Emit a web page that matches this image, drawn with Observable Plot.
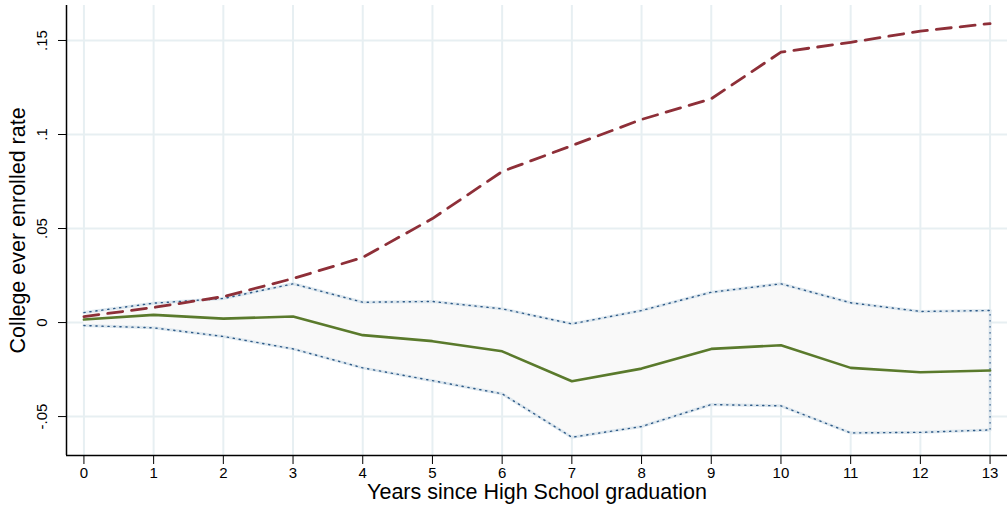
<!DOCTYPE html>
<html><head>
<meta charset="utf-8">
<script src="https://cdn.jsdelivr.net/npm/d3@7"></script>
<script src="https://cdn.jsdelivr.net/npm/@observablehq/plot@0.6"></script>
<style>body{margin:0;background:#fff;}</style>
</head><body><div id="chart"></div>
<script>
const years = [0,1,2,3,4,5,6,7,8,9,10,11,12,13];
const treated = [0.0032,0.0080,0.0138,0.0234,0.0346,0.0553,0.0803,0.0941,0.1080,0.1190,0.1438,0.1490,0.1550,0.1590];
const estimate = [0.0016,0.0041,0.0021,0.0032,-0.0067,-0.0099,-0.0153,-0.0312,-0.0245,-0.0140,-0.0121,-0.0241,-0.0264,-0.0255];
const ciUpper = [0.0053,0.0103,0.0128,0.0206,0.0108,0.0112,0.0073,-0.0007,0.0064,0.0161,0.0206,0.0105,0.0059,0.0064];
const ciLower = [-0.0016,-0.0028,-0.0074,-0.0140,-0.0241,-0.0309,-0.0379,-0.0610,-0.0553,-0.0436,-0.0443,-0.0587,-0.0584,-0.0571];
const yTicks = [-0.05,0,0.05,0.1,0.15];
const yTickLabels = ["-.05","0",".05",".1",".15"];
const xTitle = "Years since High School graduation";
const yTitle = "College ever enrolled rate";

const rows = years.map((x,i)=>({x, treated: treated[i], est: estimate[i], hi: ciUpper[i], lo: ciLower[i]}));
const xDom = [-0.25, 13.25];
const yDom = [-0.0707, 0.1686];
const gridColor = "#e7eff2";
const dotColor = "#2f5b88";
const haloColor = "#dde7ee";

const chart = Plot.plot({
  width: 1007, height: 507,
  marginLeft: 66, marginRight: 0, marginTop: 5, marginBottom: 52,
  style: {fontFamily: "'Liberation Sans', Arial, sans-serif", fontSize: "15px", background: "#fff", color: "#000"},
  x: {domain: xDom},
  y: {domain: yDom},
  marks: [
    Plot.gridX(years, {stroke: gridColor, strokeWidth: 2, strokeOpacity: 1}),
    Plot.gridY(yTicks, {stroke: gridColor, strokeWidth: 2, strokeOpacity: 1}),
    Plot.areaY(rows, {x: "x", y1: "lo", y2: "hi", fill: "#f9f9f9", fillOpacity: 1}),
    Plot.line(rows, {x: "x", y: "hi", stroke: haloColor, strokeWidth: 3}),
    Plot.line(rows, {x: "x", y: "lo", stroke: haloColor, strokeWidth: 3}),
    Plot.ruleX([rows[rows.length-1]], {x: "x", y1: "lo", y2: "hi", stroke: haloColor, strokeWidth: 3}),
    Plot.line(rows, {x: "x", y: "hi", stroke: dotColor, strokeWidth: 1.4, strokeDasharray: "1.2,4.8"}),
    Plot.line(rows, {x: "x", y: "lo", stroke: dotColor, strokeWidth: 1.4, strokeDasharray: "1.2,4.8"}),
    Plot.ruleX([rows[rows.length-1]], {x: "x", y1: "lo", y2: "hi", stroke: dotColor, strokeWidth: 1.4, strokeDasharray: "1.2,4.8"}),
    Plot.line(rows, {x: "x", y: "est", stroke: "#5a7a2c", strokeWidth: 2.6}),
    Plot.line(rows, {x: "x", y: "treated", stroke: "#8e2f38", strokeWidth: 2.8, strokeDasharray: "15,9"}),
    Plot.ruleX([xDom[0]], {stroke: "#000", strokeWidth: 1.5}),
    Plot.ruleY([yDom[0]], {stroke: "#000", strokeWidth: 1.5}),
    Plot.axisX(years, {tickSize: 9, tickPadding: 3, fontSize: 15, label: null, stroke: "#000"}),
    Plot.axisY(yTicks, {tickSize: 8, tickFormat: () => "", label: null, stroke: "#000"}),
    Plot.text(yTicks, {y: d => d, frameAnchor: "left", textAnchor: "middle", text: (d, i) => yTickLabels[i], rotate: -90, dx: -24, fontSize: 15, fill: "#000"}),
    Plot.text([xTitle], {frameAnchor: "bottom", textAnchor: "middle", dy: 43, fontSize: 21.5, fill: "#000"}),
    Plot.text([yTitle], {frameAnchor: "left", textAnchor: "middle", dx: -48, rotate: -90, fontSize: 21.5, fill: "#000"})
  ]
});
document.getElementById("chart").append(chart);
</script>
</body></html>
